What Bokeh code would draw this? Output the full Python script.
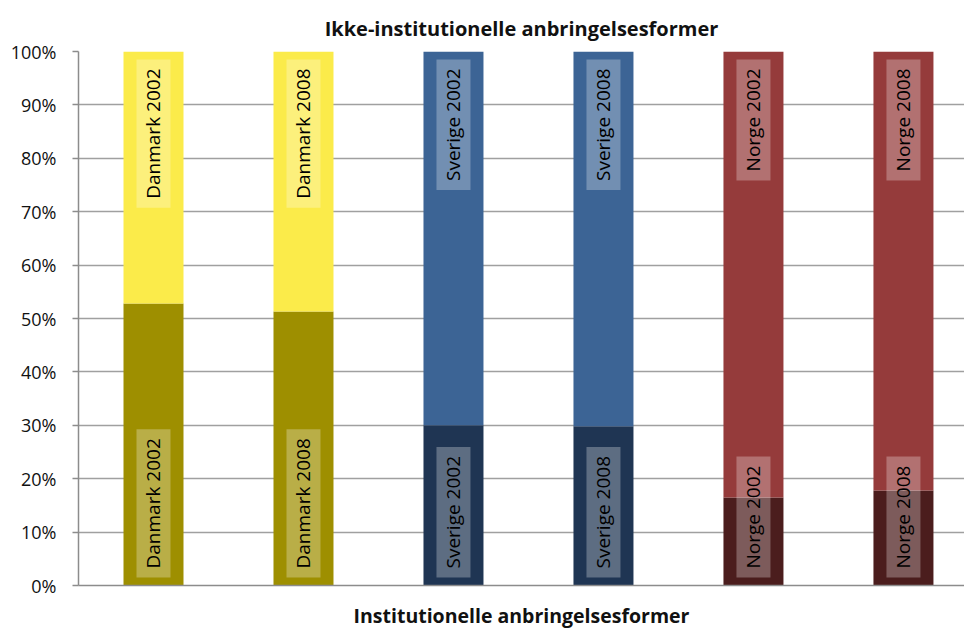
import numpy as np
from bokeh.plotting import figure
from bokeh.models import ColumnDataSource, Range1d, FixedTicker, PrintfTickFormatter
from bokeh.core.properties import value
from bokeh.embed import file_html
from bokeh.resources import INLINE

categories = ["Danmark 2002", "Danmark 2008", "Sverige 2002", "Sverige 2008", "Norge 2002", "Norge 2008"]
institutionelle = [52.8, 51.3, 30.0, 29.8, 16.5, 17.8]
ikke_institutionelle = [47.2, 48.7, 70.0, 70.2, 83.5, 82.2]
y_ticks = [0, 10, 20, 30, 40, 50, 60, 70, 80, 90, 100]
dark_colors = ["#9E8F00", "#9E8F00", "#1F3553", "#1F3553", "#4B1D1D", "#4B1D1D"]
light_colors = ["#FBEB4A", "#FBEB4A", "#3C6495", "#3C6495", "#953B3B", "#953B3B"]
top_title = "Ikke-institutionelle anbringelsesformer"
bottom_title = "Institutionelle anbringelsesformer"

FONT = "Open Sans"

xs = list(range(len(categories)))
inst = np.array(institutionelle)
ikke = np.array(ikke_institutionelle)

src = ColumnDataSource(dict(
    x=xs, cat=categories,
    b0=[0] * len(xs), t0=inst, b1=inst, t1=inst + ikke,
    dark=dark_colors, light=light_colors,
    zero=[0] * len(xs), full=list(inst + ikke),
))

p = figure(width=964, height=631, output_backend="svg", toolbar_location=None,
           x_range=Range1d(-0.5, 5.407), y_range=Range1d(0, 100),
           min_border_left=78, min_border_right=0, min_border_top=51, min_border_bottom=45,
           title=top_title)
p.outline_line_color = None
p.background_fill_color = "white"
p.border_fill_color = "white"

p.title.align = "center"
p.title.text_font = FONT
p.title.text_font_size = "20px"
p.title.text_font_style = "bold"
p.title.text_color = "#111111"
p.title.standoff = 20

p.vbar(x="x", bottom="b0", top="t0", width=0.4, source=src, fill_color="dark", line_color=None)
p.vbar(x="x", bottom="b1", top="t1", width=0.4, source=src, fill_color="light", line_color=None)

common = dict(text="cat", angle=np.pi / 2, text_baseline="middle", text_font=value(FONT),
              text_font_size="19px", text_color="black",
              background_fill_color="white", background_fill_alpha=0.28, padding=(9, 4))
p.text(x="x", y="zero", y_offset=-8, text_align="left", source=src, **common)
p.text(x="x", y="full", y_offset=8, text_align="right", source=src, **common)

p.yaxis.ticker = FixedTicker(ticks=y_ticks)
p.yaxis.formatter = PrintfTickFormatter(format="%d%%")
p.yaxis.major_label_text_font = FONT
p.yaxis.major_label_text_font_size = "18px"
p.yaxis.major_label_text_color = "#111111"
p.yaxis.axis_line_color = "#8C8C8C"
p.yaxis.axis_line_width = 1.5
p.yaxis.major_tick_line_color = "#8C8C8C"
p.yaxis.major_tick_line_width = 1.5
p.yaxis.major_tick_out = 6
p.yaxis.major_tick_in = 0
p.yaxis.minor_tick_line_color = None
p.yaxis.major_label_standoff = 16

p.ygrid.ticker = FixedTicker(ticks=y_ticks)
p.ygrid.grid_line_color = "#A0A0A0"
p.ygrid.grid_line_width = 1.5
p.xgrid.grid_line_color = None

p.xaxis.ticker = FixedTicker(ticks=[])
p.xaxis.major_label_text_font_size = "0px"
p.xaxis.major_tick_line_color = None
p.xaxis.minor_tick_line_color = None
p.xaxis.axis_line_color = "#8C8C8C"
p.xaxis.axis_line_width = 1.5
p.xaxis.axis_label = bottom_title
p.xaxis.axis_label_text_font = FONT
p.xaxis.axis_label_text_font_size = "19.5px"
p.xaxis.axis_label_text_font_style = "bold"
p.xaxis.axis_label_text_color = "#111111"
p.xaxis.axis_label_standoff = 16

open("out.html", "w").write(file_html(p, INLINE))
